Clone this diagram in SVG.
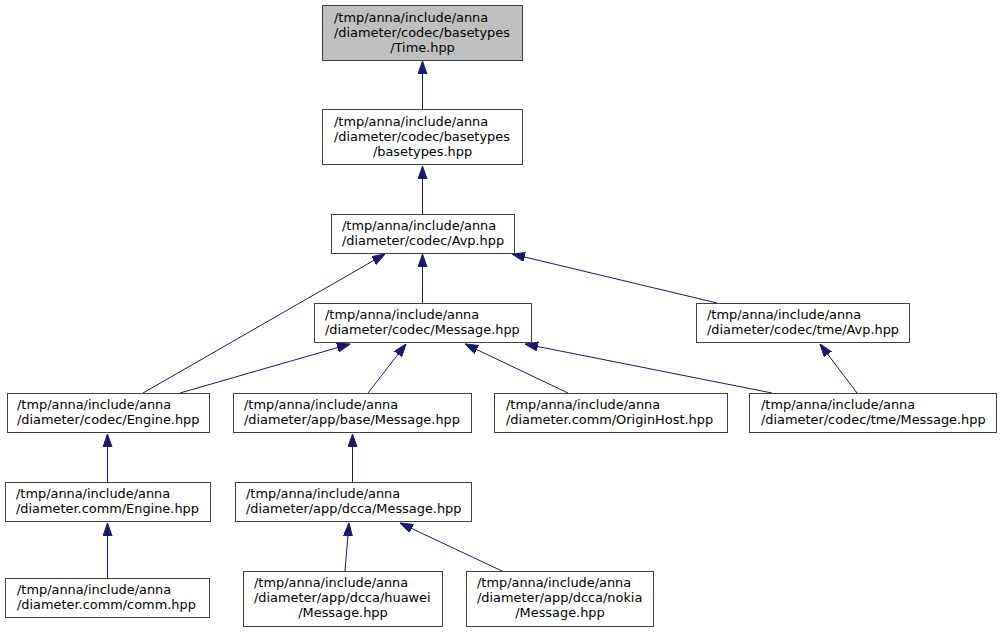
<svg xmlns="http://www.w3.org/2000/svg" width="1002" height="632" viewBox="0 0 1002 632">
<defs>
<style>
.n rect{fill:#fff;stroke:#404040;stroke-width:1}
.n.root rect{fill:#bfbfbf}
.n text{font-family:"DejaVu Sans",sans-serif;font-size:12.9px;fill:#000}
.n text.c{text-anchor:middle}
.e path{fill:none;stroke:#191970;stroke-width:1;marker-end:url(#ah)}
</style>
<marker id="ah" markerUnits="userSpaceOnUse" markerWidth="13" markerHeight="10" refX="13" refY="4.5" orient="auto">
<path d="M0,0 L13,4.5 L0,9 z" fill="#191970" stroke="#191970" stroke-width="1"/>
</marker>
</defs>
<rect width="1002" height="632" fill="#fff"/>
<g class="e" id="edges">
<path d="M422.5,109 L422.5,61"/>
<path d="M422.5,214 L422.5,166"/>
<path d="M422.5,303 L422.5,254"/>
<path d="M143,393 L385,254"/>
<path d="M717,303 L512,254"/>
<path d="M180,393 L350,344"/>
<path d="M368,393 L406,344"/>
<path d="M568,393 L465,344"/>
<path d="M772,393 L525,344"/>
<path d="M857,393 L820,344"/>
<path d="M107.5,482 L107.5,434"/>
<path d="M107.5,578 L107.5,523"/>
<path d="M352.5,482 L352.5,434"/>
<path d="M345,571 L349,523"/>
<path d="M502,571 L400,523"/>
</g>
<g class="n root" id="time">
<rect x="322.5" y="5.5" width="200" height="55"/>
<text x="334" y="22">/tmp/anna/include/anna</text>
<text x="334" y="37">/diameter/codec/basetypes</text>
<text class="c" x="422.5" y="52">/Time.hpp</text>
</g>
<g class="n" id="basetypes">
<rect x="322.5" y="109.5" width="200" height="55"/>
<text x="334" y="126">/tmp/anna/include/anna</text>
<text x="334" y="141">/diameter/codec/basetypes</text>
<text class="c" x="422.5" y="156">/basetypes.hpp</text>
</g>
<g class="n" id="avp">
<rect x="331.5" y="214.5" width="183" height="39"/>
<text x="342" y="230">/tmp/anna/include/anna</text>
<text x="342" y="245">/diameter/codec/Avp.hpp</text>
</g>
<g class="n" id="codec-message">
<rect x="314.5" y="303.5" width="217" height="39"/>
<text x="325" y="319">/tmp/anna/include/anna</text>
<text x="325" y="334">/diameter/codec/Message.hpp</text>
</g>
<g class="n" id="tme-avp">
<rect x="696.5" y="303.5" width="213" height="39"/>
<text x="707" y="319">/tmp/anna/include/anna</text>
<text x="707" y="334">/diameter/codec/tme/Avp.hpp</text>
</g>
<g class="n" id="codec-engine">
<rect x="7.5" y="393.5" width="202" height="39"/>
<text x="17" y="409">/tmp/anna/include/anna</text>
<text x="17" y="424">/diameter/codec/Engine.hpp</text>
</g>
<g class="n" id="app-base-message">
<rect x="233.5" y="393.5" width="238" height="39"/>
<text x="244" y="409">/tmp/anna/include/anna</text>
<text x="244" y="424">/diameter/app/base/Message.hpp</text>
</g>
<g class="n" id="originhost">
<rect x="494.5" y="393.5" width="233" height="39"/>
<text x="506" y="409">/tmp/anna/include/anna</text>
<text x="506" y="424">/diameter.comm/OriginHost.hpp</text>
</g>
<g class="n" id="tme-message">
<rect x="749.5" y="393.5" width="247" height="39"/>
<text x="761" y="409">/tmp/anna/include/anna</text>
<text x="761" y="424">/diameter/codec/tme/Message.hpp</text>
</g>
<g class="n" id="comm-engine">
<rect x="5.5" y="482.5" width="205" height="39"/>
<text x="16" y="498">/tmp/anna/include/anna</text>
<text x="16" y="513">/diameter.comm/Engine.hpp</text>
</g>
<g class="n" id="dcca-message">
<rect x="235.5" y="482.5" width="236" height="39"/>
<text x="246" y="498">/tmp/anna/include/anna</text>
<text x="246" y="513">/diameter/app/dcca/Message.hpp</text>
</g>
<g class="n" id="comm">
<rect x="5.5" y="578.5" width="204" height="39"/>
<text x="17" y="594">/tmp/anna/include/anna</text>
<text x="17" y="609">/diameter.comm/comm.hpp</text>
</g>
<g class="n" id="huawei">
<rect x="243.5" y="571.5" width="199" height="55"/>
<text x="254" y="587">/tmp/anna/include/anna</text>
<text x="254" y="602">/diameter/app/dcca/huawei</text>
<text class="c" x="343" y="617">/Message.hpp</text>
</g>
<g class="n" id="nokia">
<rect x="466.5" y="571.5" width="187" height="55"/>
<text x="477" y="587">/tmp/anna/include/anna</text>
<text x="477" y="602">/diameter/app/dcca/nokia</text>
<text class="c" x="560" y="617">/Message.hpp</text>
</g>
</svg>
